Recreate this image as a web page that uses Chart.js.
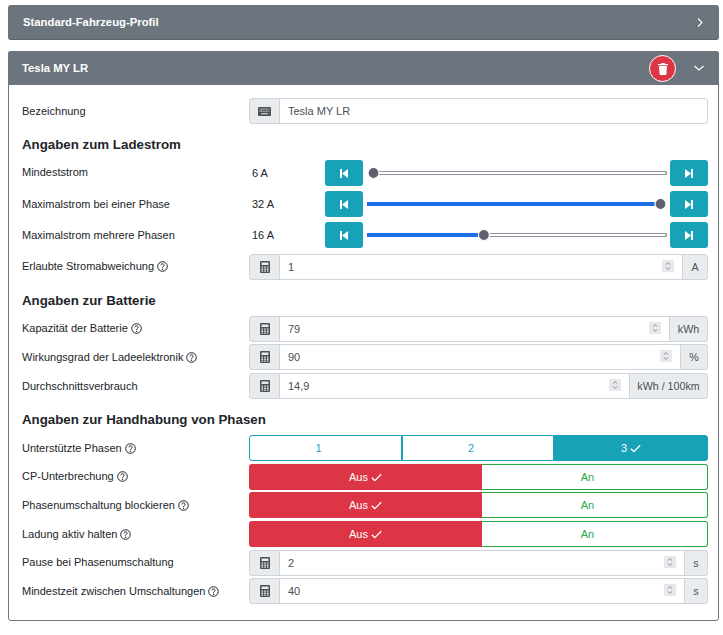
<!DOCTYPE html>
<html lang="de">
<head>
<meta charset="utf-8">
<title>Fahrzeug-Profil</title>
<script src="https://cdn.jsdelivr.net/npm/chart.js@4"></script>
<style>
html, body { margin: 0; padding: 0; background: #fff; }
body { width: 723px; height: 635px; position: relative; overflow: hidden; font-family: "Liberation Sans", Arial, sans-serif; font-size: 11px; color: #212529; }
.abs { position: absolute; box-sizing: border-box; }
.txt { position: absolute; white-space: nowrap; transform: translateY(-50%); }
.cen { display: flex; align-items: center; justify-content: center; }
.head { background: #6c757d; color: #fff; }
h3 { position: absolute; margin: 0; left: 22px; font-size: 13.3px; font-weight: 700; white-space: nowrap; transform: translateY(-50%); color: #212529; }
.addon { background: #e9ecef; border: 1px solid #ced4da; color: #495057; font-size: 10.7px; }
.field { background: #fff; border: 1px solid #ced4da; color: #495057; }
.step { background: #17a2b8; border-radius: 3px; }
svg { display: block; }
canvas { position: absolute; }
</style>
</head>
<body>
<script>
// Werte der Regler
const sliderMin = 6;
const sliderMax = 32;
const sliderLabels = ["Mindeststrom", "Maximalstrom bei einer Phase", "Maximalstrom mehrere Phasen"];
const sliderValues = [6, 32, 16];
const sliderEinheit = "A";

// Zahlenfelder
const feldLabels = ["Erlaubte Stromabweichung", "Kapazität der Batterie", "Wirkungsgrad der Ladeelektronik", "Durchschnittsverbrauch", "Pause bei Phasenumschaltung", "Mindestzeit zwischen Umschaltungen"];
const feldWerte = ["1", "79", "90", "14,9", "2", "40"];
const feldEinheiten = ["A", "kWh", "%", "kWh / 100km", "s", "s"];
const feldHilfe = [true, true, true, false, false, true];
const feldY = [254, 316, 344, 373, 550, 578];
const feldLabelY = [266, 328, 357, 386, 562, 591];
const feldEinheitX = [682, 669, 680, 629, 684, 684];

const phasen = ["1", "2", "3"];
const phaseAktiv = "3";
const schalterLabels = ["CP-Unterbrechung", "Phasenumschaltung blockieren", "Ladung aktiv halten"];
const schalterY = [464, 492, 521];
const schalterLabelY = [476, 505, 534];
const ueberschriften = ["Angaben zum Ladestrom", "Angaben zur Batterie", "Angaben zur Handhabung von Phasen"];
const ueberschriftY = [144, 300, 419];

function box(x, y, w, h, cls, css, html) {
    const el = document.createElement("div");
    el.className = "abs " + (cls || "");
    el.style.cssText = `left:${x}px;top:${y}px;width:${w}px;height:${h}px;${css || ""}`;
    if (html) el.innerHTML = html;
    document.body.appendChild(el);
    return el;
}

function text(x, y, str, css) {
    const el = document.createElement("div");
    el.className = "txt";
    el.style.cssText = `left:${x}px;top:${y}px;${css || ""}`;
    el.innerHTML = str;
    document.body.appendChild(el);
    return el;
}

const icoCheck = c => `<svg width="11" height="9" viewBox="0 0 11 9" style="display:inline-block;margin-left:3px"><path d="M.8 4.8 3.8 7.6 10.2 1.2" fill="none" stroke="${c}" stroke-width="1.3"/></svg>`;
const icoCalc = `<svg width="10" height="12" viewBox="0 0 10 12"><path fill="#495057" fill-rule="evenodd" d="M1 0h8a1 1 0 0 1 1 1v10a1 1 0 0 1-1 1H1a1 1 0 0 1-1-1V1a1 1 0 0 1 1-1zM1.500 1.500v2.500h7V1.500zM1.500 5.500v1.300h1.600V5.500zM4.200 5.500v1.300h1.600V5.500zM6.900 5.500v1.300h1.600V5.500zM1.500 7.600v1.300h1.600V7.600zM4.200 7.600v1.300h1.600V7.600zM6.900 7.600v1.300h1.600V7.600zM1.500 9.600v1.200h1.600V9.600zM4.200 9.600v1.200h1.600V9.600zM6.900 9.600v1.200h1.600V9.600z"/></svg>`;
const icoKeyb = `<svg width="13" height="9" viewBox="0 0 13 9"><rect width="13" height="9" rx="1" fill="#495057"/><path d="M1.500 2h10M1.500 4.200h10" stroke="#e9ecef" stroke-width="1" stroke-dasharray="1 .6"/><path d="M3 6.800h7" stroke="#e9ecef" stroke-width="1"/></svg>`;
const icoBack = `<svg width="8" height="9" viewBox="0 0 8 9"><path fill="#fff" d="M0 0h2v9H0zM8 0v9L2 4.500z"/></svg>`;
const icoForw = `<svg width="8" height="9" viewBox="0 0 8 9"><path fill="#fff" d="M8 0H6v9h2zM0 0v9l6-4.500z"/></svg>`;
const icoHilfe = `<svg width="11" height="11" viewBox="0 0 11 11" style="display:inline-block;vertical-align:-2px;margin-left:3px"><circle cx="5.500" cy="5.500" r="4.800" fill="none" stroke="#212529" stroke-width="1"/><path d="M3.900 4.300a1.600 1.500 0 1 1 2.400 1.300c-.6.300-.8.600-.8 1.100" fill="none" stroke="#212529" stroke-width="1"/><circle cx="5.500" cy="8.200" r=".7" fill="#212529"/></svg>`;
const icoSpin = `<svg width="12" height="12" viewBox="0 0 12 12"><rect width="12" height="12" fill="#e9e9ed"/><path d="M3.800 4.600 6 2.600 8.200 4.600M3.800 7.400 6 9.400 8.200 7.400" fill="none" stroke="#8f8f9d" stroke-width="1"/></svg>`;

// Kopfzeilen
box(8, 5, 711, 35, "head", "border-radius:3px;border-bottom:1px solid #5c646b");
text(23, 22, "Standard-Fahrzeug-Profil", "color:#fff;font-weight:700;font-size:11.3px");
box(695, 18, 9, 9, "cen", "", `<svg width="6" height="9" viewBox="0 0 6 9"><path d="M1 .5 5 4.500 1 8.500" fill="none" stroke="#fff" stroke-width="1.100"/></svg>`);

box(8, 51, 711, 570, "", "border:1px solid #6c757d;border-radius:3px");
box(8, 51, 711, 34, "head", "border-radius:3px 3px 0 0");
text(22, 68, "Tesla MY LR", "color:#fff;font-weight:700;font-size:11.3px");
box(649, 55, 27, 27, "cen", "background:#dc3545;border:1px solid #fff;border-radius:50%", `<svg width="10" height="12" viewBox="0 0 10 12"><path fill="#fff" d="M3.500 0h3l.5 1h3v1.200H0V1h3zM1 3h8l-.6 8.200a.8.8 0 0 1-.8.800H2.400a.8.8 0 0 1-.8-.8z"/></svg>`);
box(693, 65, 11, 6, "cen", "", `<svg width="10" height="6" viewBox="0 0 10 6"><path d="M.5 1 5 5 9.500 1" fill="none" stroke="#fff" stroke-width="1.200"/></svg>`);

// Bezeichnung
text(22, 111, "Bezeichnung");
box(249, 98, 31, 26, "addon cen", "border-radius:3px 0 0 3px", icoKeyb);
box(279, 98, 429, 26, "field", "border-radius:0 3px 3px 0");
text(288, 111, "Tesla MY LR", "color:#495057");

ueberschriften.forEach((t, i) => {
    const h = document.createElement("h3");
    h.textContent = t;
    h.style.top = ueberschriftY[i] + "px";
    document.body.appendChild(h);
});

// Regler, gezeichnet mit Chart.js
const sliderY = [160, 191, 222];
const sliderLabelY = [172, 204, 235];
sliderLabels.forEach((label, i) => {
    const y = sliderY[i];
    text(22, sliderLabelY[i], label);
    text(252, y + 13, sliderValues[i] + " " + sliderEinheit);
    box(325, y, 38, 26, "step cen", "", icoBack);
    box(670, y, 38, 26, "step cen", "", icoForw);

    const canvas = document.createElement("canvas");
    canvas.width = 300;
    canvas.height = 20;
    canvas.style.cssText = `left:367px;top:${y + 3}px;width:300px;height:20px`;
    document.body.appendChild(canvas);

    // Die Spur steht links und rechts um den halben Griff ueber
    const rand = (sliderMax - sliderMin) * 6.5 / 287;
    const links = sliderMin - rand;
    const rechts = sliderMax + rand;
    const wert = sliderValues[i];
    const datasets = [
        { data: [{ x: wert, y: 0 }], pointRadius: 5.5, pointBackgroundColor: "#5f5f6e", pointBorderColor: "#fff", pointBorderWidth: 1.2, showLine: false, clip: false },
    ];
    if (wert > sliderMin) {
        datasets.push({ data: [{ x: links, y: 0 }, { x: wert, y: 0 }], borderColor: "#1a6ee6", borderWidth: 4, pointRadius: 0, borderCapStyle: "round" });
    }
    if (wert < sliderMax) {
        datasets.push({ data: [{ x: wert, y: 0 }, { x: rechts - rand / 4, y: 0 }], borderColor: "#fff", borderWidth: 2, pointRadius: 0 });
        datasets.push({ data: [{ x: wert, y: 0 }, { x: rechts - rand / 4, y: 0 }], borderColor: "#8f8f9d", borderWidth: 4, pointRadius: 0, borderCapStyle: "round" });
    }
    new Chart(canvas, {
        type: "line",
        data: { datasets },
        options: {
            responsive: false,
            animation: false,
            layout: { padding: 0, autoPadding: false },
            plugins: { legend: { display: false }, tooltip: { enabled: false } },
            scales: {
                x: { type: "linear", display: false, min: links, max: rechts },
                y: { display: false, min: -1, max: 1 }
            }
        }
    });
});

// Zahlenfelder
feldLabels.forEach((label, i) => {
    const y = feldY[i];
    const ux = feldEinheitX[i];
    text(22, feldLabelY[i], label + (feldHilfe[i] ? icoHilfe : ""));
    box(249, y, 31, 26, "addon cen", "border-radius:3px 0 0 3px", icoCalc);
    box(279, y, ux - 278, 26, "field");
    text(288, y + 13, feldWerte[i], "color:#495057");
    box(ux - 20, y + 6, 12, 12, "", "", icoSpin);
    box(ux, y, 708 - ux, 26, "addon cen", "border-radius:0 3px 3px 0", feldEinheiten[i]);
});

// Phasen
text(22, 448, "Unterstützte Phasen" + icoHilfe);
const phaseX = [249, 402, 554, 708];
phasen.forEach((p, i) => {
    const aktiv = p === phaseAktiv;
    const rad = i === 0 ? "3px 0 0 3px" : i === 2 ? "0 3px 3px 0" : "0";
    box(phaseX[i], 435, phaseX[i + 1] - phaseX[i], 26, "cen",
        `border:1px solid #17a2b8;border-radius:${rad};` + (aktiv ? "background:#17a2b8;color:#fff" : "background:#fff;color:#17a2b8"),
        p + icoCheck(aktiv ? "#fff" : "transparent"));
});

// Schalter Aus / An
schalterLabels.forEach((label, i) => {
    const y = schalterY[i];
    text(22, schalterLabelY[i], label + icoHilfe);
    box(249, y, 233, 26, "cen", "background:#dc3545;color:#fff;border-radius:3px 0 0 3px", "Aus" + icoCheck("#fff"));
    box(482, y, 226, 26, "cen", "background:#fff;color:#28a745;border:1px solid #28a745;border-left:0;border-radius:0 3px 3px 0", "An" + icoCheck("transparent"));
});
</script>
</body>
</html>
